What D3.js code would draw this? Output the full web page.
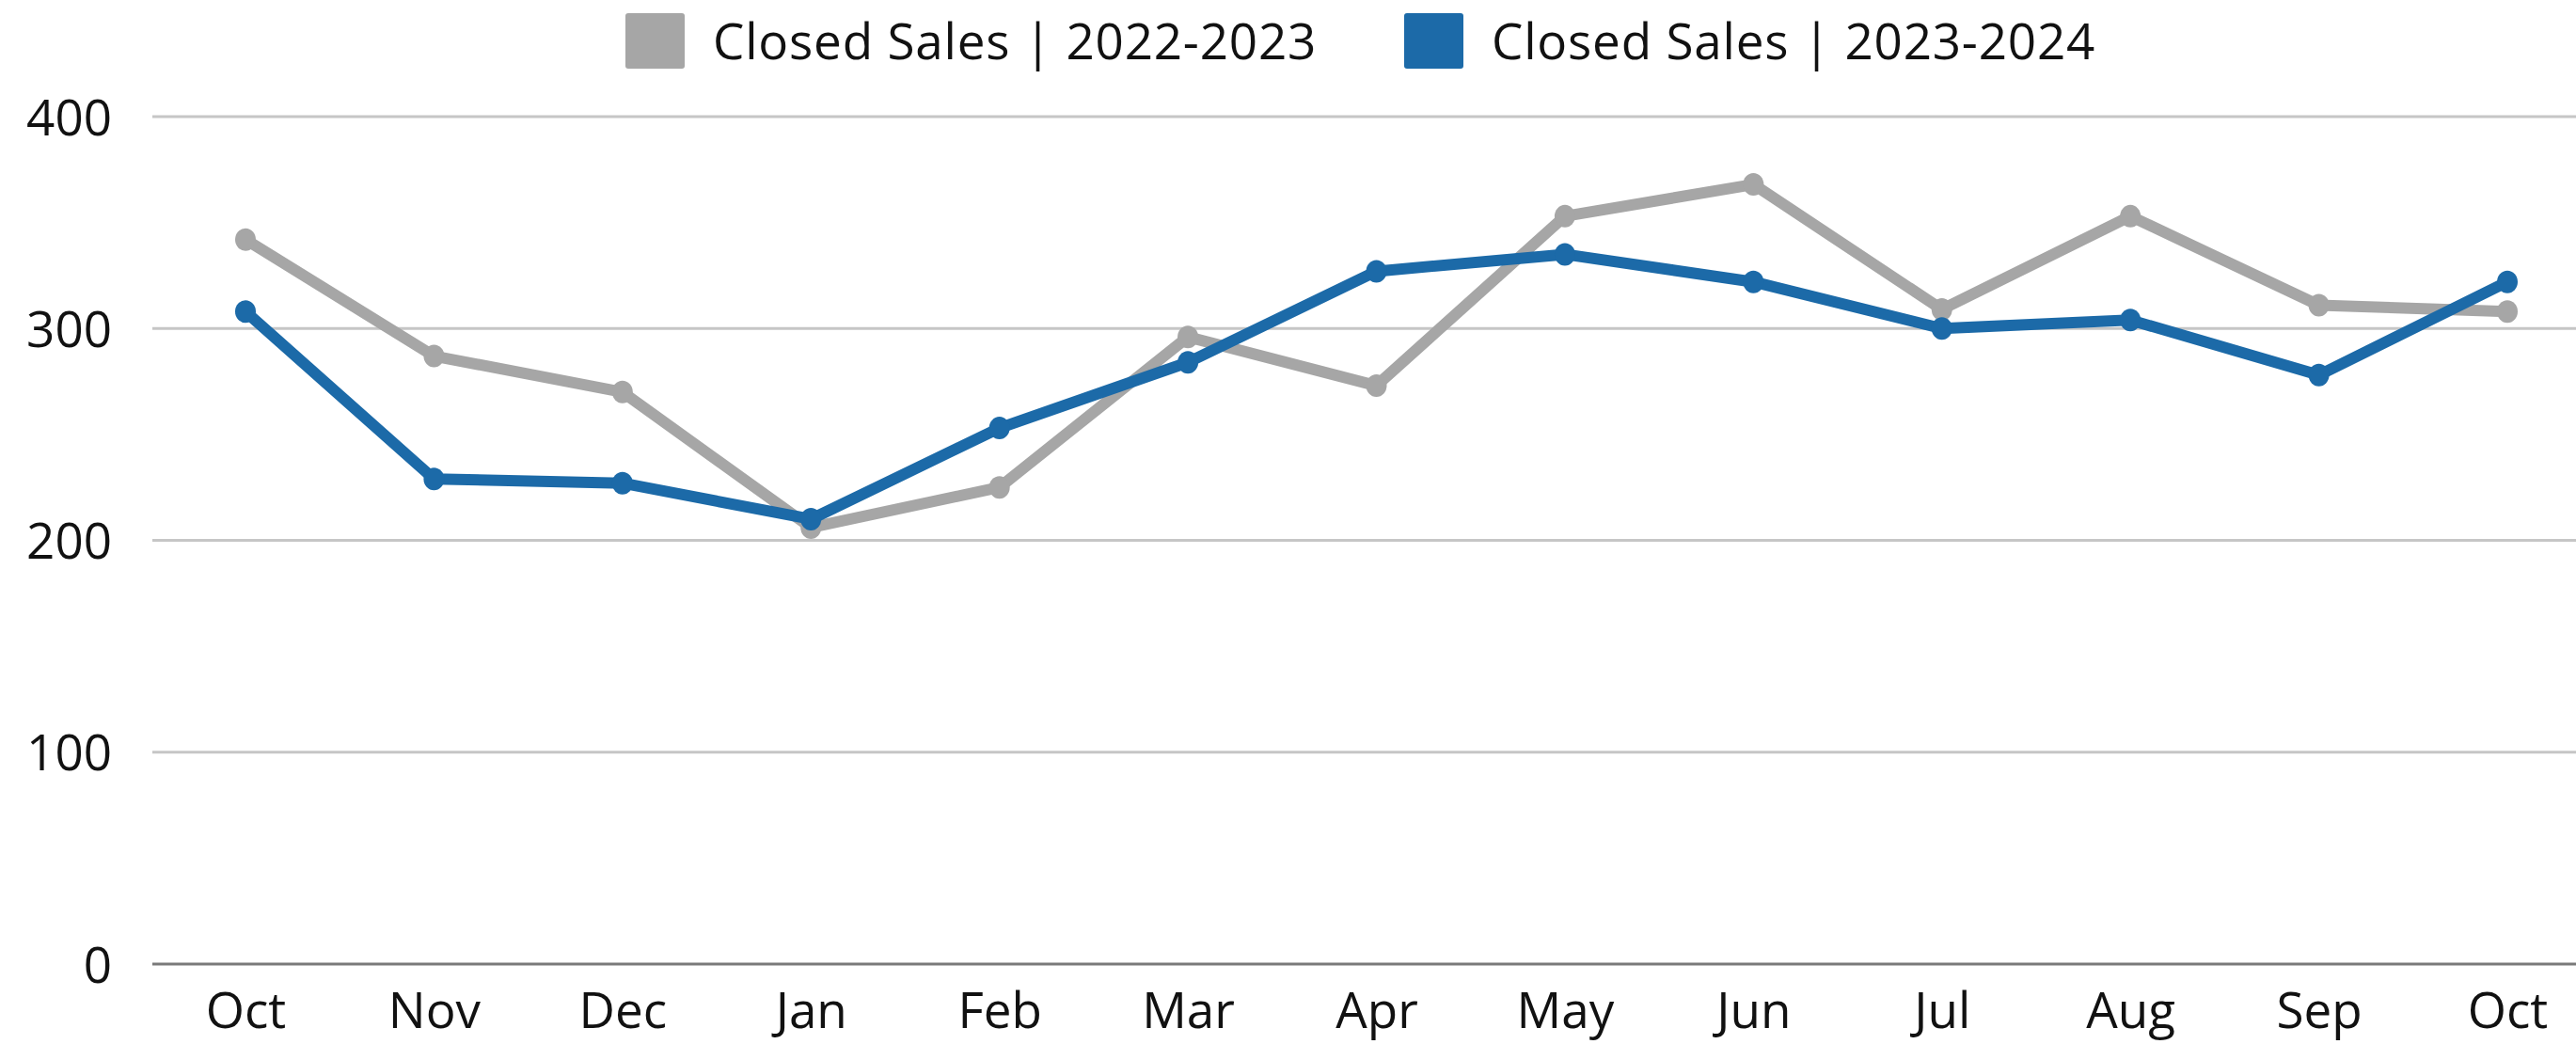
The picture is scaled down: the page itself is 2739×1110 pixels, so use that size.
<!DOCTYPE html>
<html>
<head>
<meta charset="utf-8">
<script src="https://cdn.jsdelivr.net/npm/d3@7"></script>
<style>
  html, body { margin: 0; padding: 0; background: #fff; }
  svg text { font-family: "Open Sans", "Noto Sans", sans-serif; fill: #111; }
</style>
</head>
<body>
<div id="chart"></div>
<script>
// Data
const months = ["Oct", "Nov", "Dec", "Jan", "Feb", "Mar", "Apr", "May", "Jun", "Jul", "Aug", "Sep", "Oct"];
const sales2223 = [342, 287, 270, 206, 225, 296, 273, 353, 368, 309, 353, 311, 308];
const sales2324 = [308, 229, 227, 210, 253, 284, 327, 335, 322, 300, 304, 278, 322];
const yTicks = [0, 100, 200, 300, 400];
const seriesNames = ["Closed Sales | 2022-2023", "Closed Sales | 2023-2024"];
const seriesColors = ["#a6a6a6", "#1c6aa8"];

function drawChart() {
    const W = 2739, H = 1110;
    const margin = { top: 124, right: 0, bottom: 85, left: 162 };
    const fontFamily = "'Open Sans', 'Noto Sans', sans-serif";

    const svg = d3.select("#chart").append("svg")
        .attr("width", W).attr("height", H);

    const x = d3.scalePoint()
        .domain(d3.range(months.length))
        .range([261, 2666]);
    const y = d3.scaleLinear()
        .domain([0, 400])
        .range([H - margin.bottom, margin.top]);

    // --- Gridlines ---
    svg.append("g").attr("class", "grid")
        .selectAll("line")
        .data(yTicks)
        .join("line")
        .attr("x1", margin.left).attr("x2", W - margin.right)
        .attr("y1", d => y(d)).attr("y2", d => y(d))
        .attr("stroke", d => d === 0 ? "#7a7a7a" : "#c6c6c6")
        .attr("stroke-width", 3);

    // --- Y axis labels ---
    const yAxis = d3.axisLeft(y).tickValues(yTicks).tickSize(0).tickPadding(0);
    const yg = svg.append("g").attr("transform", `translate(119,0)`).call(yAxis);
    yg.select(".domain").remove();
    yg.selectAll("text")
        .attr("font-size", 53)
        .attr("dy", "0.36em")
        .style("font-family", fontFamily)
        .attr("fill", "#111");

    // --- X axis labels ---
    const xAxis = d3.axisBottom(x).tickFormat(i => months[i]).tickSize(0).tickPadding(0);
    const xg = svg.append("g").attr("transform", `translate(0,${y(0)})`).call(xAxis);
    xg.select(".domain").remove();
    xg.selectAll("text")
        .attr("y", 49)
        .attr("dy", "0.36em")
        .attr("font-size", 53)
        .style("font-family", fontFamily)
        .attr("fill", "#111");

    // --- Lines and points ---
    const series = [sales2223, sales2324];
    const line = d3.line().x((d, i) => x(i)).y(d => y(d));

    series.forEach((vals, s) => {
        const g = svg.append("g").attr("class", "series-" + s);
        g.append("path")
            .datum(vals)
            .attr("d", line)
            .attr("fill", "none")
            .attr("stroke", seriesColors[s])
            .attr("stroke-width", 12)
            .attr("stroke-linejoin", "round");
        g.selectAll("ellipse")
            .data(vals)
            .join("ellipse")
            .attr("cx", (d, i) => x(i))
            .attr("cy", d => y(d))
            .attr("rx", 11)
            .attr("ry", 12)
            .attr("fill", seriesColors[s]);
    });

    // --- Legend ---
    const legendX = [665, 1493];
    const legend = svg.append("g").attr("class", "legend");
    seriesNames.forEach((name, s) => {
        legend.append("rect")
            .attr("x", legendX[s]).attr("y", 14)
            .attr("width", 63).attr("height", 59)
            .attr("rx", 3)
            .attr("fill", seriesColors[s]);
        legend.append("text")
            .attr("x", legendX[s] + 93).attr("y", 44)
            .attr("dy", "0.36em")
            .attr("font-size", 53)
            .attr("letter-spacing", 0.8)
            .style("font-family", fontFamily)
            .text(name);
    });
}

drawChart();
</script>
</body>
</html>
